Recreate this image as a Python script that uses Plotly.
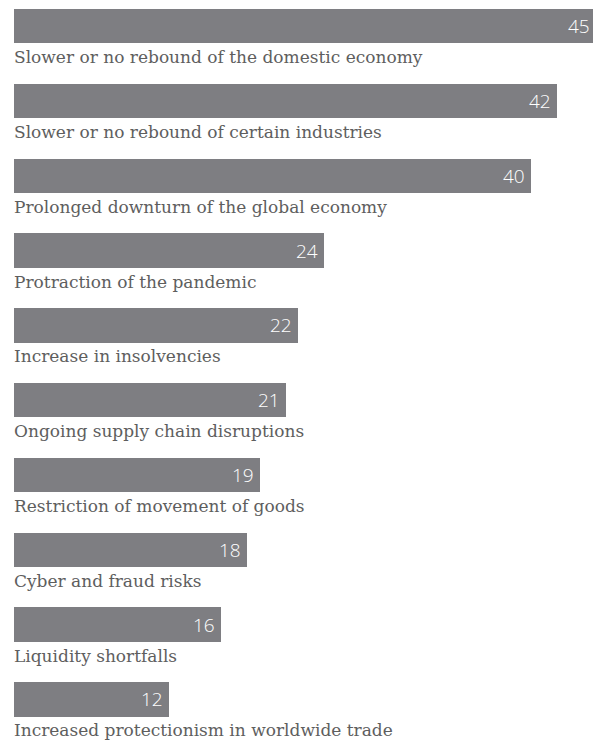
import plotly.graph_objects as go

categories = [
    "Slower or no rebound of the domestic economy",
    "Slower or no rebound of certain industries",
    "Prolonged downturn of the global economy",
    "Protraction of the pandemic",
    "Increase in insolvencies",
    "Ongoing supply chain disruptions",
    "Restriction of movement of goods",
    "Cyber and fraud risks",
    "Liquidity shortfalls",
    "Increased protectionism in worldwide trade",
]
values = [45, 42, 40, 24, 22, 21, 19, 18, 16, 12]

BAR = "#7e7e82"
LABEL = "#5e5e5e"
W, H = 593, 740
row = 74.8
top_center = 26.2
xmax = 579 / 12.93

ypos = list(range(len(categories)))

fig = go.Figure(go.Bar(
    x=values, y=ypos, orientation="h",
    marker=dict(color=BAR, line=dict(width=0)),
    width=34.5 / row,
    hoverinfo="skip",
))

annotations = []
for i, (c, v) in enumerate(zip(categories, values)):
    annotations.append(dict(
        x=0, y=i, xref="x", yref="y", text=c, showarrow=False,
        xanchor="left", yanchor="middle", yshift=-31, xshift=-2,
        font=dict(family="DejaVu Serif", size=17, color=LABEL),
    ))
    annotations.append(dict(
        x=v / xmax, y=i, xref="paper", yref="y", text=str(v), showarrow=False,
        xanchor="right", yanchor="middle", xshift=-4,
        font=dict(family="Open Sans", size=19, color="white", weight=300),
    ))

ymax = (H - top_center) / row
ymin = -top_center / row
fig.update_layout(
    width=W, height=H,
    margin=dict(l=14, r=0, t=0, b=0),
    paper_bgcolor="white", plot_bgcolor="white",
    showlegend=False,
    xaxis=dict(range=[0, xmax], visible=False, fixedrange=True),
    yaxis=dict(range=[ymax, ymin], visible=False, fixedrange=True),
    annotations=annotations,
    bargap=0,
)
fig.write_html("out.html")
